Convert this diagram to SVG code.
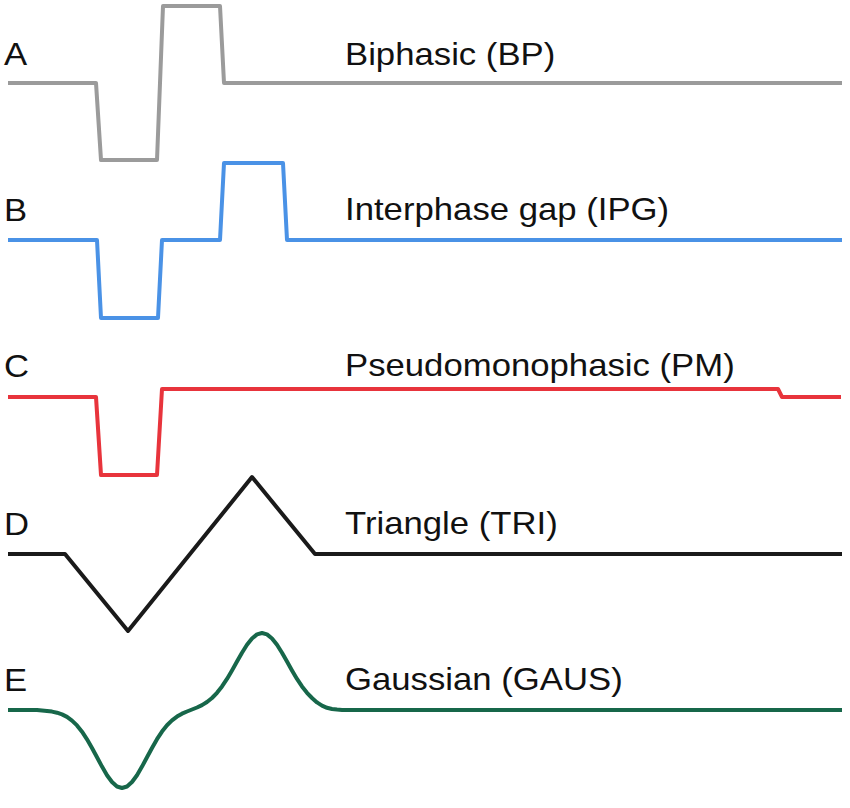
<svg xmlns="http://www.w3.org/2000/svg" width="850" height="808" viewBox="0 0 850 808">
<style>
.w{fill:none;stroke-width:4;stroke-linejoin:round;stroke-linecap:butt}
.t{font-family:"Liberation Sans",Arial,sans-serif;font-size:31px;fill:#111}
</style>
<rect width="850" height="808" fill="#fff"/>
<g id="A">
<path class="w" stroke="#9b9b9b" d="M8,83 H96 L101,160 H157 L163,6 H220 L224,83 H842"/>
<text class="t" transform="translate(4,65) scale(1.12,1)">A</text>
<text class="t" transform="translate(345,65) scale(1.12,1)">Biphasic (BP)</text>
</g>
<g id="B">
<path class="w" stroke="#4a92e6" d="M8,240 H97 L101,318 H158 L162,240 H220 L224,163 H283 L287,240 H842"/>
<text class="t" transform="translate(4,221) scale(1.12,1)">B</text>
<text class="t" transform="translate(345,220) scale(1.12,1)">Interphase gap (IPG)</text>
</g>
<g id="C">
<path class="w" stroke="#e8343c" d="M8,397 H96 L101,475 H157 L162,389 H778 L782,397 H841"/>
<text class="t" transform="translate(4,377) scale(1.12,1)">C</text>
<text class="t" transform="translate(345,376) scale(1.12,1)">Pseudomonophasic (PM)</text>
</g>
<g id="D">
<path class="w" stroke="#1a1a1a" d="M8,554 H65 L128,631 L252,477 L315,554 H842"/>
<text class="t" transform="translate(4,535) scale(1.12,1)">D</text>
<text class="t" transform="translate(345,534) scale(1.12,1)">Triangle (TRI)</text>
</g>
<g id="E">
<path class="w" stroke="#17674a" d="M8,710 H37 L42,710.5 L47,710.9 L52,711.6 L57,712.7 L62,714.4 L67,716.9 L72,720.6 L77,725.4 L82,731.7 L87,739.3 L92,748 L97,757.3 L102,766.6 L107,775.2 L112,782 L117,786.5 L122,788 L127,786.5 L132,782 L137,775.2 L142,766.6 L147,757.3 L152,748 L157,739.2 L162,731.6 L167,725.3 L172,720.4 L177,716.6 L182,713.7 L187,711.5 L192,709.5 L197,707.5 L202,705.1 L207,702 L212,698 L217,692.8 L222,686.4 L227,678.9 L232,670.4 L237,661.5 L242,652.7 L247,644.8 L252,638.5 L257,634.4 L262,633 L267,634.4 L272,638.5 L277,644.8 L282,652.7 L287,661.5 L292,670.4 L297,678.9 L302,686.4 L307,692.8 L312,698 L317,702.4 L322,705.6 L327,707.8 L332,709 L337,709.6 L342,710 H842"/>
<text class="t" transform="translate(4,691) scale(1.12,1)">E</text>
<text class="t" transform="translate(345,690) scale(1.12,1)">Gaussian (GAUS)</text>
</g>
</svg>
